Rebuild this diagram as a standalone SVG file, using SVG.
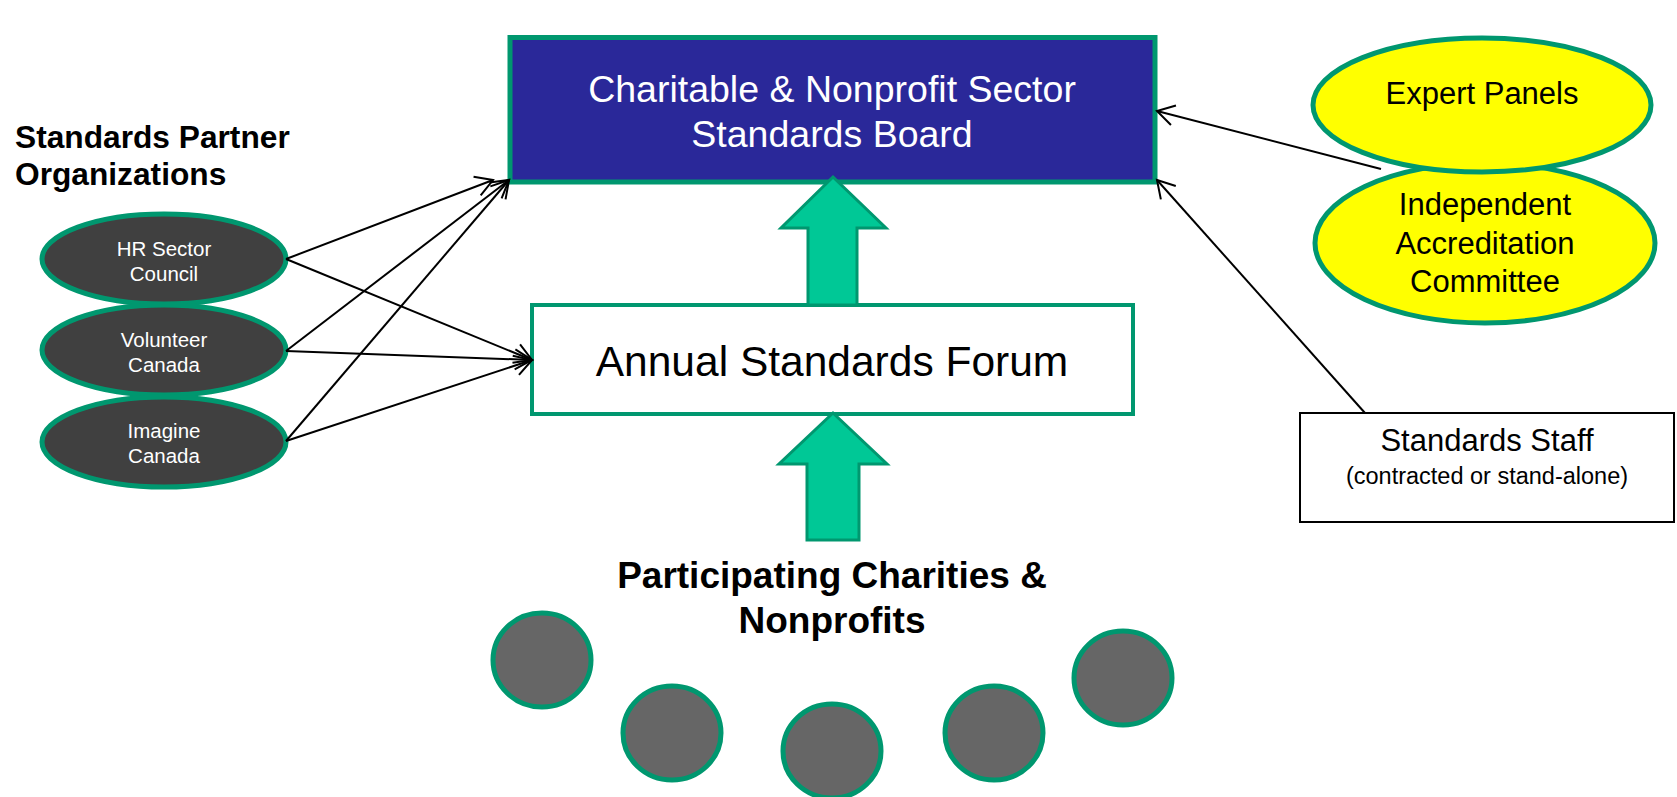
<svg xmlns="http://www.w3.org/2000/svg" width="1677" height="797" viewBox="0 0 1677 797">
<style>
text{font-family:"Liberation Sans",Arial,sans-serif;text-anchor:middle}
.org ellipse{fill:#404040;stroke:#00976F;stroke-width:5}
.org text{fill:#fff;font-size:20.5px}
.yel ellipse{fill:#FFFF00;stroke:#00976F;stroke-width:5}
.yel text{fill:#000;font-size:31px}
.part ellipse{fill:#666666;stroke:#00976F;stroke-width:5}
.up{fill:#00C896;stroke:#00976F;stroke-width:3}
.conn line{stroke:#000;stroke-width:2;marker-end:url(#open)}
.title{font-weight:bold;fill:#000}
</style>
<defs>
<marker id="open" markerUnits="userSpaceOnUse" viewBox="-20 -12 24 24" refX="0" refY="0" markerWidth="24" markerHeight="24" orient="auto">
<path d="M-17,-10 L0,0 L-17,10" fill="none" stroke="#000" stroke-width="2"/>
</marker>
</defs>
<rect width="1677" height="797" fill="#fff"/>

<g id="board">
<rect x="510" y="37.5" width="645" height="144.5" fill="#2A2899" stroke="#00976F" stroke-width="5"/>
<text x="832" y="102" font-size="37.5" fill="#fff">Charitable &amp; Nonprofit Sector</text>
<text x="832" y="147" font-size="37.5" fill="#fff">Standards Board</text>
</g>

<g id="forum">
<rect x="532" y="305" width="601" height="109" fill="#fff" stroke="#00976F" stroke-width="4"/>
<text x="832" y="376" font-size="42.5" fill="#000">Annual Standards Forum</text>
</g>

<g id="arrow-forum-board">
<polygon class="up" points="833,177 886,228 857,228 857,305 808,305 808,228 781,228"/>
</g>
<g id="arrow-participants-forum">
<polygon class="up" points="833,413 887,464 859,464 859,540 807,540 807,464 779,464"/>
</g>

<g id="partner-title">
<text class="title" x="15" y="148" font-size="31.7" style="text-anchor:start">Standards Partner</text>
<text class="title" x="15" y="185" font-size="31.7" style="text-anchor:start">Organizations</text>
</g>

<g id="hr-sector-council" class="org">
<ellipse cx="164" cy="259" rx="122" ry="45"/>
<text x="164" y="256">HR Sector</text>
<text x="164" y="281">Council</text>
</g>
<g id="volunteer-canada" class="org">
<ellipse cx="164" cy="350" rx="122" ry="45"/>
<text x="164" y="347">Volunteer</text>
<text x="164" y="372">Canada</text>
</g>
<g id="imagine-canada" class="org">
<ellipse cx="164" cy="442" rx="122" ry="45"/>
<text x="164" y="438">Imagine</text>
<text x="164" y="463">Canada</text>
</g>

<g id="independent-accreditation-committee" class="yel">
<ellipse cx="1485" cy="243" rx="170" ry="80"/>
<text x="1485" y="215">Independent</text>
<text x="1485" y="254">Accreditation</text>
<text x="1485" y="292">Committee</text>
</g>
<g id="expert-panels" class="yel">
<ellipse cx="1482" cy="105" rx="169" ry="67"/>
<text x="1482" y="104">Expert Panels</text>
</g>

<g id="standards-staff">
<rect x="1300" y="413" width="374" height="109" fill="#fff" stroke="#000" stroke-width="2"/>
<text x="1487" y="451" font-size="31">Standards Staff</text>
<text x="1487" y="484" font-size="23.5">(contracted or stand-alone)</text>
</g>

<g id="participants-title">
<text class="title" x="832" y="588" font-size="37">Participating Charities &amp;</text>
<text class="title" x="832" y="633" font-size="37">Nonprofits</text>
</g>

<g id="participant-1" class="part"><ellipse cx="542" cy="660" rx="49" ry="47"/></g>
<g id="participant-2" class="part"><ellipse cx="672" cy="733" rx="49" ry="47"/></g>
<g id="participant-3" class="part"><ellipse cx="832" cy="751" rx="49" ry="47"/></g>
<g id="participant-4" class="part"><ellipse cx="994" cy="733" rx="49" ry="47"/></g>
<g id="participant-5" class="part"><ellipse cx="1123" cy="678" rx="49" ry="47"/></g>

<g id="connectors" class="conn">
<line x1="286" y1="259" x2="493" y2="180"/>
<line x1="286" y1="259" x2="532" y2="360"/>
<line x1="286" y1="351" x2="509" y2="180"/>
<line x1="286" y1="351" x2="532" y2="360"/>
<line x1="286" y1="441" x2="509" y2="180"/>
<line x1="286" y1="441" x2="532" y2="360"/>
<line x1="1381" y1="169" x2="1157" y2="111"/>
<line x1="1365" y1="413" x2="1157" y2="180"/>
</g>
</svg>
